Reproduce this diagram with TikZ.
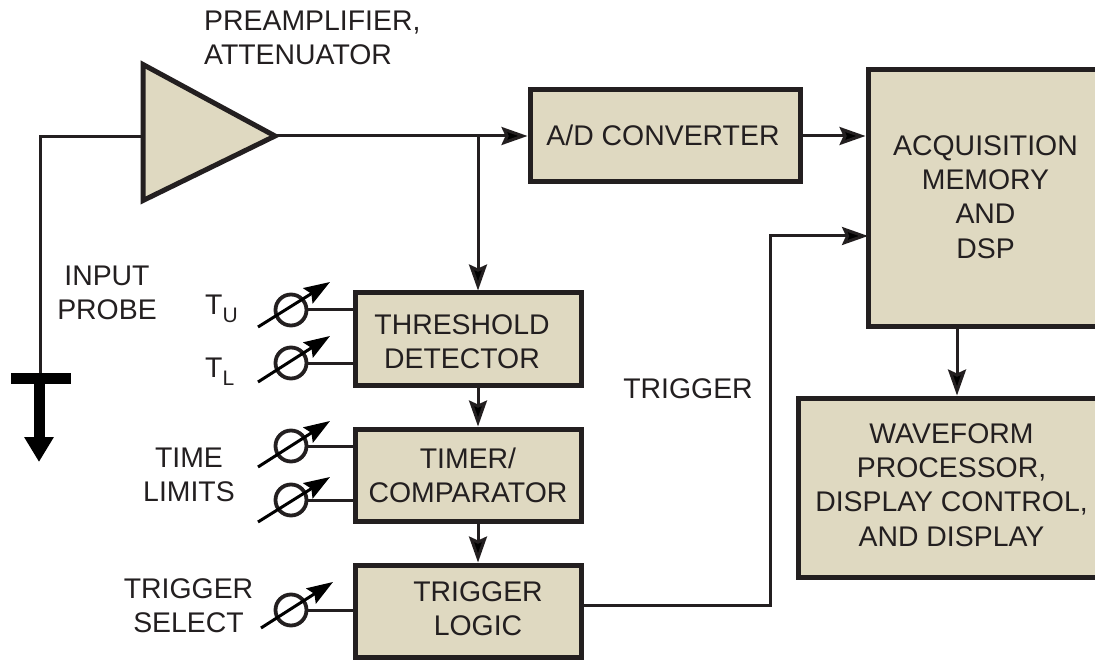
\documentclass[tikz,border=0pt]{standalone}
\usepackage{fontspec}
\setmainfont{Liberation Sans}
\usetikzlibrary{arrows.meta,positioning}
\definecolor{ink}{HTML}{231F20}
\definecolor{tan}{HTML}{DFD9C1}
\tikzset{
  x=1pt,y=-1pt,
  txt/.style={font=\fontsize{28.4}{34.2}\selectfont,text=ink,align=center,inner sep=0pt},
  blockbox/.style={draw=ink,fill=tan,line width=5pt,inner sep=0pt,anchor=center},
  wire/.style={draw=ink,line width=3pt},
  flow/.style={wire,-{Stealth[length=26pt,width=18pt,inset=4pt,fill=black]}},
  pot/.style={circle,draw=ink,line width=3.8pt,minimum size=31pt,inner sep=0pt,fill=white},
  potarrow/.style={draw=black,line width=3pt,-{Stealth[length=26pt,width=18pt,inset=4pt]}},
}
\begin{document}
\begin{tikzpicture}
\useasboundingbox (0,0) rectangle (1095,660);
% boxes
\node[blockbox,minimum width=270pt,minimum height=92pt] (ad) at (665,136) {};
\node[txt] (adt) at (663,135) {A/D CONVERTER};
\node[blockbox,minimum width=234pt,minimum height=257pt] (acq) at (985,198.5) {};
\node[txt] (acqt) at (985.5,197) {ACQUISITION\\MEMORY\\AND\\DSP};
\node[blockbox,minimum width=308pt,minimum height=179pt] (wave) at (952,487.5) {};
\node[txt] (wavet) at (951.5,485) {WAVEFORM\\PROCESSOR,\\DISPLAY CONTROL,\\AND DISPLAY};
\node[blockbox,minimum width=226pt,minimum height=92pt] (thr) at (468,339) {};
\node[txt] (thrt) at (462,342) {THRESHOLD\\DETECTOR};
\node[blockbox,minimum width=226pt,minimum height=92pt] (tim) at (468,475) {};
\node[txt] (timt) at (468,475) {TIMER/\\COMPARATOR};
\node[blockbox,minimum width=226pt,minimum height=92pt] (log) at (468,611) {};
\node[txt] (logt) at (478,608.5) {TRIGGER\\LOGIC};
% amplifier
\coordinate (ampin) at (143,137);
\coordinate (ampout) at (275,136);
\draw[draw=ink,fill=tan,line width=5pt,miter limit=10] (143,64.5) -- (ampout) -- (143,200.5) -- cycle;
% potentiometers
\node[pot] (p1) at (291,310) {};
\node[pot] (p2) at (291,363) {};
\node[pot] (p3) at (291,446) {};
\node[pot] (p4) at (291,500) {};
\node[pot] (p5) at (291,610) {};
\draw[wire] (p1.east) -- (p1.east -| thr.west);
\draw[wire] (p2.east) -- (p2.east -| thr.west);
\draw[wire] (p3.east) -- (p3.east -| tim.west);
\draw[wire] (p4.east) -- (p4.east -| tim.west);
\draw[wire] (p5.east) -- (p5.east -| log.west);
\coordinate (a1s) at (258,327); \coordinate (a1e) at (330,282);
\coordinate (a2s) at (258,382); \coordinate (a2e) at (330,336);
\coordinate (a3s) at (258,467); \coordinate (a3e) at (330,421);
\coordinate (a4s) at (258,522); \coordinate (a4e) at (330,477);
\coordinate (a5s) at (261,628); \coordinate (a5e) at (333,582);
\draw[potarrow] (a1s) -- (a1e);
\draw[potarrow] (a2s) -- (a2e);
\draw[potarrow] (a3s) -- (a3e);
\draw[potarrow] (a4s) -- (a4e);
\draw[potarrow] (a5s) -- (a5e);
% connectors
\coordinate (tap) at (478,136);
\draw[flow] (ampout) -- (ad.west);
\draw[flow] (tap) -- (tap |- thr.north);
\draw[flow] (ad.east) -- (acq.west |- ad.east);
\draw[flow] (thr.south -| 478,0) -- (tim.north -| 478,0);
\draw[flow] (tim.south -| 478,0) -- (log.north -| 478,0);
\coordinate (trigin) at (868,236);
\draw[flow] (log.east |- 0,605) -- (770,605) -- (770,236) -- (trigin);
\draw[flow] (acq.south -| 957,0) -- (wave.north -| 957,0);
% probe
\coordinate (gndtop) at (40,378);
\coordinate (gndtip) at (39,462);
\draw[wire] (ampin) -- (40,137) -- (gndtop);
\fill[black] (11,373) rectangle (70.5,384);
\draw[line width=11pt,draw=black,-{Triangle[length=25pt,width=28pt]}] (39,384) -- (gndtip);
% labels
\node[txt,align=left,anchor=west] (pre) at (204,38) {PREAMPLIFIER,\\ATTENUATOR};
\node[txt] (inp) at (107,292.5) {INPUT\\PROBE};
\node[txt,anchor=west] (tu) at (205,309) {T\raisebox{-8pt}{\fontsize{21}{21}\selectfont U}};
\node[txt,anchor=west] (tl) at (205,372) {T\raisebox{-8pt}{\fontsize{21}{21}\selectfont L}};
\node[txt] (tl2) at (189,475) {TIME\\LIMITS};
\node[txt] (sel) at (188.5,606) {TRIGGER\\SELECT};
\node[txt] (trg) at (688,389) {TRIGGER};
\end{tikzpicture}
\end{document}
